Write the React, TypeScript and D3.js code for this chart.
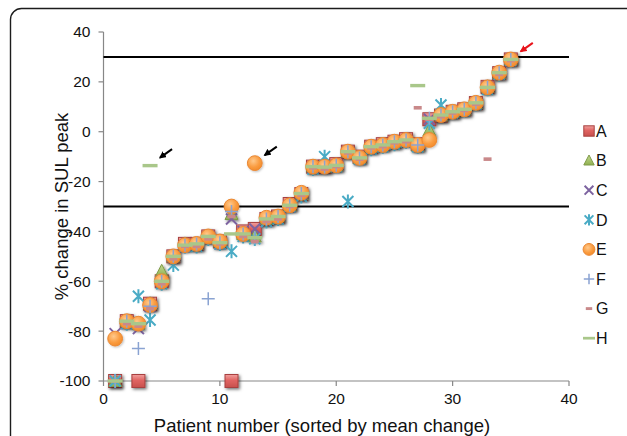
import * as d3 from "d3";

// patient number on x, % change in SUL peak per reader (A–H)
const patients = [1, 2, 3, 4, 5, 6, 7, 8, 9, 10, 11, 12, 13, 14, 15, 16, 17, 18, 19, 20, 21, 22, 23, 24, 25, 26, 27, 28, 29, 30, 31, 32, 33, 34, 35];

const seriesA = [-100, -76, -100, -69, -60, -50, -45, -45, -42, -44, -100, -40, -39, -35, -34, -29, -25, -14, -14, -13, -8, -10, -6, -5, -4, -3, -5, 5, 6.5, 8, 9, 11.5, 18, 23.5, 29];
const seriesB = [-100, -76, -77, -69, -56, -50, -45, -45, -42, -44, -33, -41, -42, -35, -34, -29.5, -25, -14, -14, -13.5, -8, -10.5, -6, -5, -4, -3, -5.5, 0.5, 6.5, 8, 9, 11.5, 18, 23.5, 29];
const seriesC = [-81, -77, -79, -70, -60, -50, -46, -45, -42, -45, -35, -40, -39, -36, -34, -30, -25, -14.5, -14, -13.5, -8, -11, -6, -5.5, -4, -3.5, -5.5, 5, 6.5, 8, 9, 11.5, 18, 23.5, 29];
const seriesD = [-100, -77, -66, -75.5, -61, -53.5, -46, -46, -43, -45, -48, -42, -43, -36, -35, -30, -26, -15, -10, -14, -28, -11, -7, -6, -5, -4, -6, 3.4, 10.7, 7.5, 8.5, 11, 17, 23, 28.5];
const seriesE = [-83, -76, -77, -69.5, -60, -50, -45.5, -45, -42, -44, -30, -41, -12.6, -34.5, -34, -29.5, -24.5, -14, -14, -13.5, -8, -10.5, -6, -5.3, -4, -3.3, -5.3, -3.3, 6.7, 8, 9, 11.6, 17.8, 23.7, 29];
const seriesF = [-100, -76, -87, -70, -60, -50, -45.5, -45, -67, -44.5, -32, -41, -42.5, -35, -34, -29.5, -24.8, -14, -14.2, -13.5, -8, -10.5, -6, -5.3, -4, -3.3, -5.3, 5.4, 6.7, 8, 9, 11.6, 17.8, 23.7, 29];
const seriesG = [-100, -77, -78, -71, -61, -51, -46, -46, -43, -45, -34, -42, -44, -36, -35, -30, -25.5, -14.5, -15, -14, -8.5, -11, -6.5, -6, -4.5, -4, 9.6, 5, 6, 7.5, 8.5, 11, -11, 23, 28.5];
const seriesH = [-100, -76, -77, -13.6, -60, -50, -45.5, -45, -42, -44.5, -41, -41, -42.5, -35, -34, -29.5, -24.8, -14, -14.2, -13.5, -8, -10.5, -6, -5.3, -4, -3.3, 18.5, 5.4, 6.7, 8, 9, 11.6, 17.8, 23.7, 29];

const seriesNames = ["A", "B", "C", "D", "E", "F", "G", "H"];
const seriesValues = [seriesA, seriesB, seriesC, seriesD, seriesE, seriesF, seriesG, seriesH];

const xTicks = [0, 10, 20, 30, 40];
const yTicks = [-100, -80, -60, -40, -20, 0, 20, 40];
const thresholds = [30, -30];

// arrows: [patient, value, colour]
const arrowTargets = [
  { patient: 4, value: -13.6, color: "#000" },
  { patient: 13, value: -12.6, color: "#000" },
  { patient: 35, value: 29, color: "#e8141b" },
];

const W = 627;
const H = 436;
const FONT = "'Liberation Sans', Arial, sans-serif";

const x = d3.scaleLinear().domain([0, 40]).range([103.5, 569]);
const y = d3.scaleLinear().domain([-100, 40]).range([381, 32]);

// heavy shadow for filled markers, faint one for line markers
const shadowFor = { A: "url(#shadow)", B: "url(#shadow)", E: "url(#shadowSoft)" };

function marker(name, cx, cy, s = 1) {
  const k = (v) => v * s;
  switch (name) {
    case "A":
      return <rect x={cx - k(6.5)} y={cy - k(6.5)} width={k(13)} height={k(13)} fill="url(#gA)" stroke="#a8413f" strokeWidth={1} />;
    case "B":
      return (
        <path
          d={`M${cx},${cy - k(7)}L${cx + k(6.5)},${cy + k(5.5)}L${cx - k(6.5)},${cy + k(5.5)}Z`}
          fill="url(#gB)"
          stroke="#7f9a48"
          strokeWidth={1}
        />
      );
    case "C":
      return (
        <path
          d={`M${cx - k(5.5)},${cy - k(5.5)}L${cx + k(5.5)},${cy + k(5.5)}M${cx - k(5.5)},${cy + k(5.5)}L${cx + k(5.5)},${cy - k(5.5)}`}
          stroke="#7d63a0"
          strokeWidth={2}
        />
      );
    case "D":
      return (
        <path
          d={`M${cx - k(5.5)},${cy - k(5.5)}L${cx + k(5.5)},${cy + k(5.5)}M${cx - k(5.5)},${cy + k(5.5)}L${cx + k(5.5)},${cy - k(5.5)}M${cx},${cy - k(7)}L${cx},${cy + k(7)}`}
          stroke="#4aabc5"
          strokeWidth={2}
        />
      );
    case "E":
      return <circle cx={cx} cy={cy} r={k(7.4)} fill="url(#gE)" stroke="#ea8834" strokeWidth={1} />;
    case "F":
      return (
        <path
          d={`M${cx - k(6.5)},${cy}L${cx + k(6.5)},${cy}M${cx},${cy - k(6.5)}L${cx},${cy + k(6.5)}`}
          stroke="#8aa3d2"
          strokeWidth={1.5}
        />
      );
    case "G":
      return <rect x={cx - k(4)} y={cy - k(1.8)} width={k(8)} height={k(3.6)} fill="#c9898a" />;
    default:
      return <rect x={cx - k(7.5)} y={cy - k(1.7)} width={k(15)} height={k(3.4)} fill="#a9c78a" />;
  }
}

export default function App() {
  return (
    <svg width={W} height={H} style={{ position: "absolute", left: 0, top: 0, fontFamily: FONT }}>
      <defs>
        <linearGradient id="gA" x1="0" y1="0" x2="0" y2="1">
          <stop offset="0%" stopColor="#f0a09e" />
          <stop offset="45%" stopColor="#e06462" />
          <stop offset="100%" stopColor="#c8504d" />
        </linearGradient>
        <linearGradient id="gB" x1="0" y1="0" x2="0" y2="1">
          <stop offset="0%" stopColor="#c4da92" />
          <stop offset="100%" stopColor="#8fb04f" />
        </linearGradient>
        <radialGradient id="gE" cx="0.4" cy="0.35" r="0.7">
          <stop offset="0%" stopColor="#ffc98c" />
          <stop offset="60%" stopColor="#fa9c40" />
          <stop offset="100%" stopColor="#f28a28" />
        </radialGradient>
        <filter id="shadow" x="-50%" y="-50%" width="200%" height="200%">
          <feDropShadow dx="1.5" dy="1.5" stdDeviation="1.4" floodColor="#000" floodOpacity="0.55" />
        </filter>
        <filter id="shadowSoft" x="-50%" y="-50%" width="200%" height="200%">
          <feDropShadow dx="1" dy="1" stdDeviation="1" floodColor="#000" floodOpacity="0.25" />
        </filter>
        {arrowTargets.map((a, i) => (
          <marker key={i} id={`ah${i}`} viewBox="0 0 10 10" refX="8" refY="5" markerWidth="3.6" markerHeight="3.6" orient="auto">
            <path d="M0,0L10,5L0,10Z" fill={a.color} />
          </marker>
        ))}
      </defs>

      <rect x={10.5} y={8.5} width={640} height={460} rx={11} fill="#fff" stroke="#1c1c1c" strokeWidth={1.4} />

      {/* axes */}
      <line x1={x(0)} x2={x(0)} y1={y(40)} y2={y(-100)} stroke="#878787" strokeWidth={1.2} />
      <line x1={x(0)} x2={x(40)} y1={y(-100)} y2={y(-100)} stroke="#878787" strokeWidth={1.2} />
      {yTicks.map((t) => (
        <g key={t}>
          <line x1={x(0) - 5} x2={x(0)} y1={y(t)} y2={y(t)} stroke="#878787" strokeWidth={1.2} />
          <text x={x(0) - 13} y={y(t)} dy="0.35em" textAnchor="end" fontSize={15.5} fill="#111">
            {t}
          </text>
        </g>
      ))}
      {xTicks.map((t) => (
        <g key={t}>
          <line x1={x(t)} x2={x(t)} y1={y(-100)} y2={y(-100) + 5} stroke="#878787" strokeWidth={1.2} />
          <text x={x(t)} y={y(-100) + 23} textAnchor="middle" fontSize={15.5} fill="#111">
            {t}
          </text>
        </g>
      ))}

      {/* thresholds */}
      {thresholds.map((t) => (
        <line key={t} x1={x(0)} x2={x(40)} y1={y(t)} y2={y(t)} stroke="#000" strokeWidth={2} />
      ))}

      {/* points */}
      {seriesNames.map((name, si) => (
        <g key={name} filter={shadowFor[name]}>
          {seriesValues[si].map((v, i) => (
            <g key={i}>{marker(name, x(patients[i]), y(v))}</g>
          ))}
        </g>
      ))}

      {/* arrows */}
      {arrowTargets.map((a, i) => {
        const px = x(a.patient);
        const py = y(a.value);
        return (
          <line
            key={i}
            x1={px + 22}
            y1={py - 16.5}
            x2={px + 10}
            y2={py - 8}
            stroke={a.color}
            strokeWidth={2}
            markerEnd={`url(#ah${i})`}
          />
        );
      })}

      {/* legend */}
      {seriesNames.map((name, i) => {
        const ly = 131 + i * 29.6;
        return (
          <g key={name}>
            {marker(name, 589, ly, 0.8)}
            <text x={596} y={ly} dy="0.36em" fontSize={16} fill="#111">
              {name}
            </text>
          </g>
        );
      })}

      {/* titles */}
      <text x={322} y={432} textAnchor="middle" fontSize={18.5} fill="#111">
        Patient number (sorted by mean change)
      </text>
      <text transform={`translate(68,${(y(40) + y(-100)) / 2}) rotate(-90)`} textAnchor="middle" fontSize={18.5} fill="#111">
        % change in SUL peak
      </text>
    </svg>
  );
}
